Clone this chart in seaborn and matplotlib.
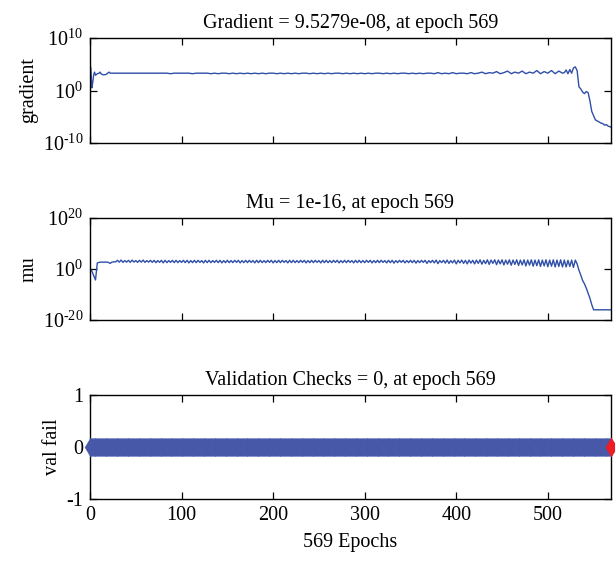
import numpy as np
import pandas as pd
import matplotlib
matplotlib.use("Agg")
import matplotlib.pyplot as plt
import seaborn as sns
from matplotlib.ticker import FixedLocator, FixedFormatter, NullLocator

# ---------------- data ----------------
n_epochs = 569
final_gradient = "9.5279e-08"
final_mu = "1e-16"
final_val = 0

# gradient, log10 values
grad_start_epochs = [0, 1, 2, 3, 4, 5, 6, 8, 10, 11, 12, 14, 16, 18, 20, 21, 22]
grad_start_log = [5.2, 4.0, 0.5, 1.5, 3.0, 3.5, 2.9, 3.2, 3.3, 3.5, 3.2, 3.0, 3.0, 3.1, 3.4, 3.5, 3.3]
grad_mid_epochs = list(range(24, 517, 4))
grad_mid_log = [
    3.3, 3.3, 3.3, 3.3, 3.3, 3.3, 3.3, 3.3, 3.3, 3.3, 3.3, 3.3, 3.3, 3.3, 3.3, 3.3, 3.2, 3.3, 3.3, 3.3,
    3.3, 3.3, 3.2, 3.3, 3.3, 3.3, 3.3, 3.2, 3.3, 3.2, 3.3, 3.3, 3.2, 3.3, 3.2, 3.3, 3.2, 3.3, 3.2, 3.3,
    3.2, 3.3, 3.2, 3.3, 3.3, 3.2, 3.3, 3.2, 3.3, 3.2, 3.3, 3.2, 3.3, 3.3, 3.2, 3.3, 3.2, 3.3, 3.2, 3.3,
    3.2, 3.3, 3.3, 3.2, 3.3, 3.2, 3.3, 3.2, 3.3, 3.2, 3.3, 3.2, 3.3, 3.3, 3.2, 3.3, 3.2, 3.3, 3.2, 3.3,
    3.3, 3.2, 3.3, 3.2, 3.3, 3.2, 3.3, 3.3, 3.2, 3.4, 3.2, 3.3, 3.2, 3.4, 3.2, 3.3, 3.3, 3.2, 3.4, 3.2,
    3.3, 3.5, 3.2, 3.4, 3.3, 3.6, 3.2, 3.4, 3.7, 3.2, 3.5, 3.3, 3.7, 3.2, 3.5, 3.3, 3.8, 3.2, 3.6, 3.3,
    3.8, 3.2, 3.7, 3.3,
]
grad_end_epochs = [518, 520, 522, 524, 526, 528, 530, 532, 534, 536, 538, 540, 542, 544,
                   546, 548, 550, 552, 554, 556, 558, 560, 562, 564, 566, 568, 569]
grad_end_log = [3.4, 3.9, 3.2, 4.0, 3.3, 4.3, 4.5, 3.8, 0.7, 0.3, -0.3, -0.6, -0.2, -0.4,
                -2.0, -4.0, -4.8, -5.6, -5.8, -6.0, -6.2, -6.3, -6.6, -6.5, -6.8, -6.9, -7.02]

# mu, log10 values at every second epoch (plus the last epoch)
mu_epochs = list(range(0, 569, 2)) + [569]
mu_start_log = [0.4, -0.8, -2.5, -4.3, 2.4, 2.6, 2.7, 2.7, 2.7, 2.7, 2.6, 2.2, 2.7, 2.8, 2.8]
mu_mid_log = [
    3.4, 2.7, 3.5, 2.6, 3.3, 2.7, 3.4, 2.6, 3.5, 2.7, 3.3, 2.6, 3.4, 2.7, 3.5, 2.6, 3.3, 2.7, 3.4, 2.6,
    3.4, 2.5, 3.3, 2.6, 3.4, 2.4, 3.4, 2.5, 3.3, 2.6, 3.4, 2.5, 3.4, 2.5, 3.3, 2.6, 3.4, 2.5, 3.4, 2.4,
    3.3, 2.5, 3.4, 2.5, 3.4, 2.6, 3.3, 2.4, 3.4, 2.5, 3.4, 2.5, 3.3, 2.6, 3.4, 2.5, 3.4, 2.4, 3.3, 2.5,
    3.4, 2.5, 3.3, 2.5, 3.4, 2.6, 3.4, 2.4, 3.3, 2.5, 3.4, 2.5, 3.4, 2.6, 3.3, 2.4, 3.4, 2.5, 3.4, 2.5,
    3.3, 2.5, 3.4, 2.6, 3.4, 2.4, 3.3, 2.5, 3.4, 2.5, 3.4, 2.6, 3.3, 2.4, 3.4, 2.5, 3.4, 2.5, 3.3, 2.5,
    3.4, 2.6, 3.4, 2.4, 3.3, 2.5, 3.4, 2.5, 3.4, 2.6, 3.3, 2.4, 3.4, 2.5, 3.4, 2.5, 3.3, 2.5, 3.4, 2.6,
    3.4, 2.4, 3.3, 2.5, 3.4, 2.5, 3.4, 2.6, 3.3, 2.4, 3.4, 2.5, 3.4, 2.5, 3.3, 2.5, 3.4, 2.6, 3.4, 2.4,
    3.3, 2.5, 3.4, 2.5, 3.4, 2.6, 3.3, 2.4, 3.4, 2.5, 3.4, 2.3, 3.3, 2.5, 3.4, 2.6, 3.4, 2.4, 3.3, 2.5,
    3.4, 2.5, 3.4, 2.3, 3.3, 2.5, 3.4, 2.6, 3.4, 2.2, 3.3, 2.5, 3.4, 2.4, 3.5, 2.1, 3.3, 2.5, 3.4, 2.3,
    3.5, 2.2, 3.3, 2.4, 3.5, 2.0, 3.4, 2.4, 3.5, 2.2, 3.4, 2.0, 3.5, 2.3, 3.4, 2.0, 3.5, 2.2, 3.6, 1.9,
    3.4, 2.1, 3.6, 1.8, 3.5, 2.2, 3.6, 1.7, 3.5, 2.0, 3.6, 1.6, 3.5, 1.9, 3.6, 1.5, 3.5, 1.8, 3.6, 1.4,
    3.5, 1.6, 3.6, 1.2, 3.5, 1.5, 3.6, 1.1, 3.5, 1.3, 3.6, 1.0, 3.5, 1.2, 3.6, 0.9, 3.5, 1.1, 3.6, 0.8,
    3.5, 1.0, 3.6, 0.8,
]
mu_end_log = [3.5, 0.8, 3.4, 1.0, 3.5, 0.6, 3.5, 2.0, -0.5, -2.4, -4.5, -5.8, -7.5, -9.5,
              -11.5, -14.0, -16.0, -16.0, -16.0, -16.0, -16.0, -16.0, -16.0, -16.0, -16.0, -16.0,
              -16.0]

# validation checks
val_epochs = list(range(0, 570))
val_fail = [0] * 570
best_epoch = [569]
best_val = [0]

titles = [f"Gradient = {final_gradient}, at epoch {n_epochs}",
          f"Mu = {final_mu}, at epoch {n_epochs}",
          f"Validation Checks = {final_val}, at epoch {n_epochs}"]
ylabels = ["gradient", "mu", "val fail"]
xticks = [0, 100, 200, 300, 400, 500]
grad_ticks = [1e-10, 1e0, 1e10]
grad_ticklabels = [r"$\mathregular{10^{\text{-}10}}$", r"$\mathregular{10^{0}}$", r"$\mathregular{10^{10}}$"]
mu_ticks = [1e-20, 1e0, 1e20]
mu_ticklabels = [r"$\mathregular{10^{\text{-}20}}$", r"$\mathregular{10^{0}}$", r"$\mathregular{10^{20}}$"]
val_ticks = [-1, 0, 1]
val_ticklabels = ["-1", "0", "1"]

# ---------------- plot ----------------
sns.set_theme(style="white")
plt.rcParams["font.family"] = ["Liberation Serif", "DejaVu Serif"]
plt.rcParams["mathtext.fontset"] = "custom"
plt.rcParams["mathtext.rm"] = "Liberation Serif"
plt.rcParams["axes.unicode_minus"] = False

FS = 14.5
line_color = "#2F4FA8"

fig = plt.figure(figsize=(6.15, 5.61), dpi=100)
W, H = 615.0, 561.0
left, right = 90 / W, 611 / W
boxes = [(38, 143), (218, 320), (395, 499)]
axes = []
for top, bot in boxes:
    ax = fig.add_axes([left, 1 - bot / H, right - left, (bot - top) / H])
    axes.append(ax)

grad_df = pd.DataFrame({
    "epoch": grad_start_epochs + grad_mid_epochs + grad_end_epochs,
    "gradient": 10.0 ** np.array(grad_start_log + grad_mid_log + grad_end_log),
})
mu_df = pd.DataFrame({
    "epoch": mu_epochs,
    "mu": 10.0 ** np.array(mu_start_log + mu_mid_log + mu_end_log),
})
val_df = pd.DataFrame({"epoch": val_epochs, "val": val_fail})
best_df = pd.DataFrame({"epoch": best_epoch, "val": best_val})

ax = axes[0]
sns.lineplot(data=grad_df, x="epoch", y="gradient", ax=ax, color=line_color,
             linewidth=1.0, estimator=None, sort=False)
ax.set_yscale("log")
ax.set_ylim(1e-10, 1e10)
ax.yaxis.set_major_locator(FixedLocator(grad_ticks))
ax.yaxis.set_major_formatter(FixedFormatter(grad_ticklabels))

ax = axes[1]
sns.lineplot(data=mu_df, x="epoch", y="mu", ax=ax, color=line_color,
             linewidth=1.0, estimator=None, sort=False)
ax.set_yscale("log")
ax.set_ylim(1e-20, 1e20)
ax.yaxis.set_major_locator(FixedLocator(mu_ticks))
ax.yaxis.set_major_formatter(FixedFormatter(mu_ticklabels))

ax = axes[2]
sns.scatterplot(data=val_df, x="epoch", y="val", ax=ax, marker="d", s=88,
                color="#414A9B", edgecolor="#5670BE", linewidth=0.25, clip_on=False, zorder=3)
sns.scatterplot(data=best_df, x="epoch", y="val", ax=ax, marker="d", s=88,
                color="#EE1C24", edgecolor="#EE1C24", linewidth=0.5, clip_on=False, zorder=4)
ax.set_ylim(-1, 1)
ax.yaxis.set_major_locator(FixedLocator(val_ticks))
ax.yaxis.set_major_formatter(FixedFormatter(val_ticklabels))

for i, ax in enumerate(axes):
    ax.set_xlim(0, n_epochs)
    ax.xaxis.set_major_locator(FixedLocator(xticks))
    ax.yaxis.set_minor_locator(NullLocator())
    ax.xaxis.set_minor_locator(NullLocator())
    ax.tick_params(axis="both", which="major", direction="in", length=5, width=0.9,
                   top=True, right=True, bottom=True, left=True, colors="black",
                   labelsize=FS, pad=5)
    for sp in ax.spines.values():
        sp.set_color("black")
        sp.set_linewidth(1.0)
    ax.set_title(titles[i], fontsize=FS, pad=7, color="black")
    ax.set_ylabel(ylabels[i], fontsize=FS, color="black", labelpad=3)
    if i < 2:
        ax.set_xlabel("")
        ax.tick_params(axis="x", labelbottom=False)
    else:
        ax.set_xlabel(f"{n_epochs} Epochs", fontsize=FS, color="black", labelpad=6)
    ax.set_facecolor("white")

fig.savefig("out.png", dpi=100, facecolor="white")
